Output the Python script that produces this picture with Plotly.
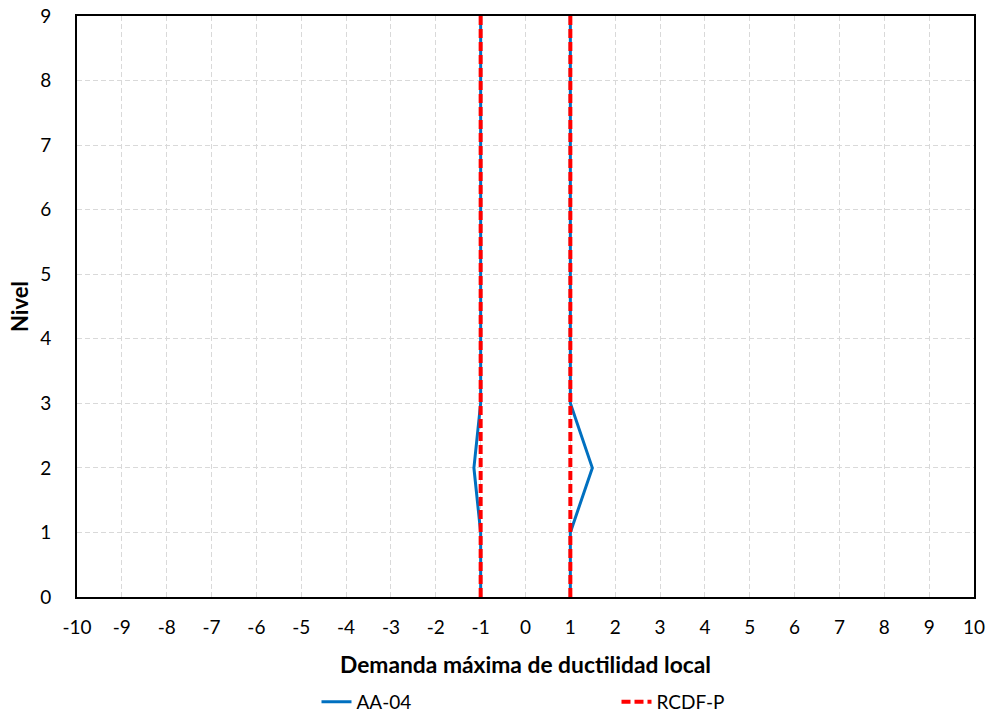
import plotly.graph_objects as go

# Data
niveles = [0, 1, 2, 3, 4, 5, 6, 7, 8, 9]
aa04_neg = [-1, -1, -1.15, -1, -1, -1, -1, -1, -1, -1]
aa04_pos = [1, 1, 1.49, 1, 1, 1, 1, 1, 1, 1]
rcdf_neg = [-1, -1]
rcdf_pos = [1, 1]
rcdf_niv = [0, 9]
x_ticks = list(range(-10, 11))
y_ticks = list(range(0, 10))

FONT = "Lato"

aa_x = aa04_neg + [None] + aa04_pos
aa_y = niveles + [None] + niveles
rc_x = rcdf_neg + [None] + rcdf_pos
rc_y = rcdf_niv + [None] + rcdf_niv

fig = go.Figure()
fig.add_trace(go.Scatter(x=aa_x, y=aa_y, mode="lines", name="AA-04",
                         line=dict(color="#0070C0", width=3), connectgaps=False))
fig.add_trace(go.Scatter(x=rc_x, y=rc_y, mode="lines", name="RCDF-P",
                         line=dict(color="#FF0000", width=4, dash="9px,4px"), connectgaps=False))

fig.update_layout(
    template="none",
    width=995, height=715,
    margin=dict(l=77, r=21, t=16, b=118, autoexpand=False),
    paper_bgcolor="white", plot_bgcolor="white",
    font=dict(family=FONT, size=19, color="black"),
    showlegend=True,
    legend=dict(orientation="h", x=0.267, xanchor="left",
                yref="container", y=1 - 702 / 715, yanchor="middle",
                font=dict(size=19), entrywidth=255, entrywidthmode="pixels",
                bgcolor="rgba(0,0,0,0)"),
)
fig.update_xaxes(
    range=[-10, 10], tickmode="array", tickvals=x_ticks, ticktext=[str(v) for v in x_ticks],
    showgrid=True, gridcolor="#D9D9D9", griddash="5px,3px", gridwidth=1,
    zeroline=False, showline=True, linecolor="black", linewidth=2, mirror=True,
    ticks="outside", ticklen=12, tickcolor="rgba(0,0,0,0)", automargin=False,
    title=dict(text="<b>Demanda máxima de ductilidad local</b>", font=dict(size=22.8), standoff=20),
)
fig.update_yaxes(
    range=[0, 9], tickmode="array", tickvals=y_ticks, ticktext=[str(v) for v in y_ticks],
    showgrid=True, gridcolor="#D9D9D9", griddash="5px,3px", gridwidth=1,
    zeroline=False, showline=True, linecolor="black", linewidth=2, mirror=True,
    ticks="outside", ticklen=20, tickcolor="rgba(0,0,0,0)", automargin=False,
    title=dict(text="<b>Nivel</b>", font=dict(size=22), standoff=5),
)

fig.write_html("out.html", config={"displayModeBar": False},
               post_script="document.body.style.margin='0px';")
